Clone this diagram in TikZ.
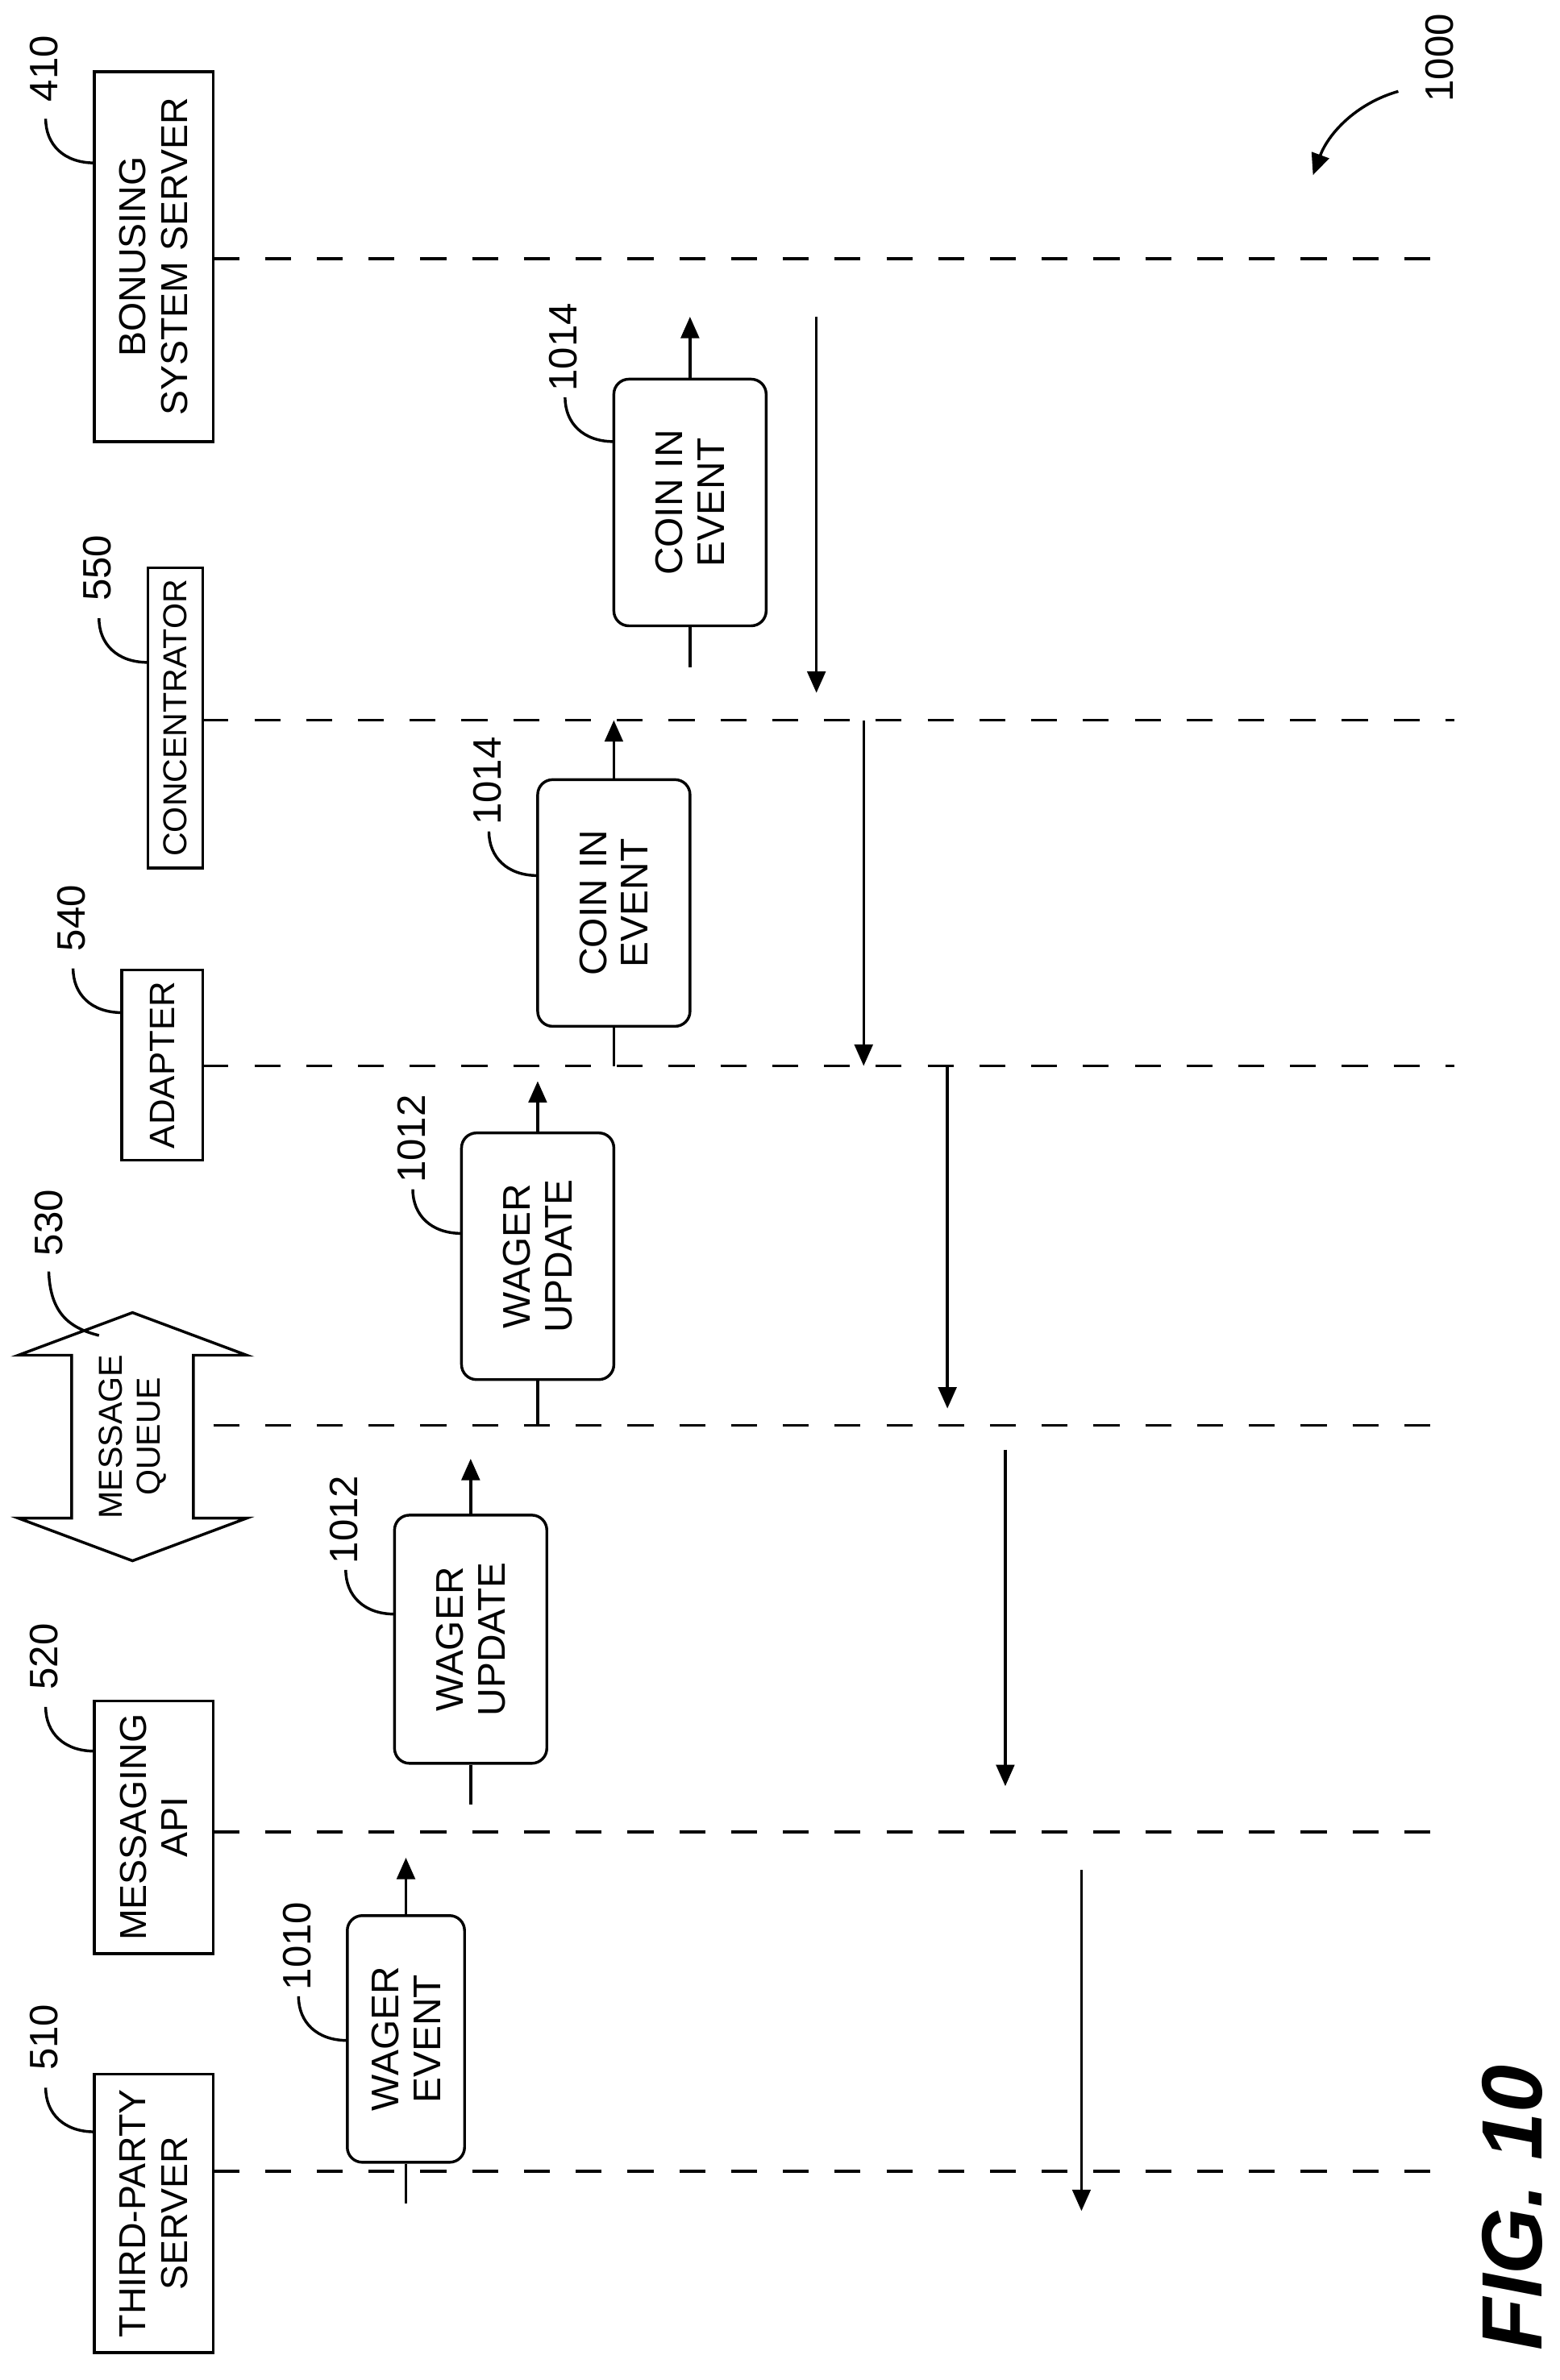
\documentclass[tikz,border=0pt]{standalone}
\usepackage{fontspec}
\setmainfont{Liberation Sans}
\usetikzlibrary{arrows.meta}
\begin{document}
\begin{tikzpicture}[x=0.05cm,y=-0.05cm,line width=2.6pt,
  box/.style={draw,rotate=90,align=center,font=\fontsize{35}{39}\selectfont,inner sep=0pt},
  ev/.style={draw,rounded corners=14pt,rotate=90,align=center,font=\fontsize{36}{39}\selectfont,inner sep=0pt},
  num/.style={rotate=90,font=\fontsize{37}{40}\selectfont,inner sep=0pt},
  life/.style={dash pattern=on 0.85cm off 0.85cm},
  arr/.style={-{Triangle[length=20pt,width=17pt]}}]
\useasboundingbox (0,0) rectangle (1024,1563);
\newcommand{\lead}[4]{\draw (#1,#2) .. controls (#1-20,#2) and (#1-32,#2-12) .. (#1-32,#2-29);
  \node[num] (#4) at (#1-33,#2-62) {#3};}
% servers
\node[box,minimum width=12.15cm,minimum height=3.9cm] (s410) at (101,168.5) {BONUSING\\SYSTEM SERVER};
\node[box,minimum width=9.85cm,minimum height=1.8cm,font=\fontsize{31}{34}\selectfont] (s550) at (115,471.5) {CONCENTRATOR};
\node[box,minimum width=6.25cm,minimum height=2.65cm,font=\fontsize{33}{36}\selectfont] (s540) at (106.5,699.5) {ADAPTER};
\node[box,minimum width=8.3cm,minimum height=3.9cm] (s520) at (101,1200) {MESSAGING\\API};
\node[box,minimum width=9.15cm,minimum height=3.9cm] (s510) at (101,1453.5) {THIRD-PARTY\\SERVER};
\draw (87,862) -- (162,890) -- (127,890) -- (127,997) -- (162,997) -- (87,1025) -- (12,997) -- (47,997) -- (47,890) -- (12,890) -- cycle;
\node[box,draw=none,font=\fontsize{31}{35}\selectfont] (s530) at (87,943.5) {MESSAGE\\QUEUE};
\lead{62}{107}{410}{n410}
\lead{97}{435}{550}{n550}
\lead{80}{665}{540}{n540}
\lead{62}{1150}{520}{n520}
\lead{62}{1400}{510}{n510}
\draw (65,877) .. controls (45,872) and (33,862) .. (32,835);
\node[num] (n530) at (32,803) {530};
% lifelines
\coordinate (d410) at (955,170); \coordinate (d550) at (955,473);
\coordinate (d540) at (955,700); \coordinate (d530) at (955,936);
\coordinate (d520) at (955,1203); \coordinate (d510) at (955,1426);
\draw[life] (140,170) -- (d410);
\draw[life] (133,473) -- (d550);
\draw[life] (133,700) -- (d540);
\draw[life] (140,936) -- (d530);
\draw[life] (140,1203) -- (d520);
\draw[life] (140,1426) -- (d510);
% events
\node[ev,minimum width=8.1cm,minimum height=5cm] (e1) at (453,330) {COIN IN\\EVENT};
\node[ev,minimum width=8.1cm,minimum height=5cm] (e2) at (403,593) {COIN IN\\EVENT};
\node[ev,minimum width=8.1cm,minimum height=5cm] (e3) at (353,825) {WAGER\\UPDATE};
\node[ev,minimum width=8.15cm,minimum height=5cm] (e4) at (309,1076.5) {WAGER\\UPDATE};
\node[ev,minimum width=8.1cm,minimum height=3.85cm] (e5) at (266.5,1339) {WAGER\\EVENT};
\lead{403}{290}{1014}{n1}
\lead{353}{575}{1014}{n2}
\lead{303}{810}{1012}{n3}
\lead{259}{1060}{1012}{n4}
\lead{228}{1340}{1010}{n5}
\draw (e1.west) -- (453,438); \draw[arr] (e1.east) -- (453,208);
\draw (e2.west) -- (403,700); \draw[arr] (e2.east) -- (403,473);
\draw (e3.west) -- (353,936); \draw[arr] (e3.east) -- (353,710);
\draw (e4.west) -- (309,1185); \draw[arr] (e4.east) -- (309,958);
\draw (e5.west) -- (266.5,1447); \draw[arr] (e5.east) -- (266.5,1220);
% returns
\draw[arr] (536,208) -- (536,455);
\draw[arr] (567,473) -- (567,700);
\draw[arr] (622,700) -- (622,925);
\draw[arr] (660,952) -- (660,1173);
\draw[arr] (710,1228) -- (710,1452);
% figure label
\node[num] (n1000) at (945,38) {1000};
\draw[arr] (918,60) .. controls (890,68) and (872,88) .. (862,115);
\node[rotate=90,font=\fontsize{80}{84}\selectfont\bfseries\itshape,inner sep=0pt] (fig) at (993,1450) {FIG. 10};
\end{tikzpicture}
\end{document}
